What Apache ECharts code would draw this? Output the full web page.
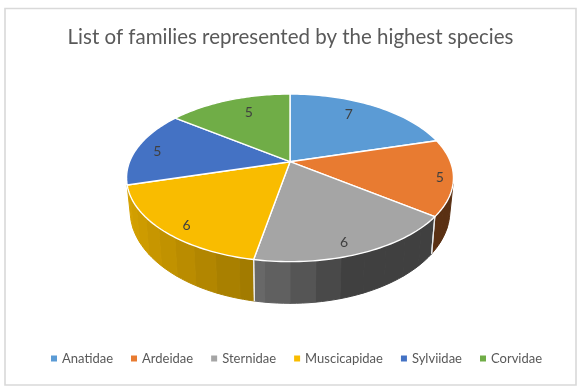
<!DOCTYPE html>
<html><head><meta charset="utf-8">
<style>html,body{margin:0;padding:0;background:#fff}#c{width:583px;height:391px}</style>
<script src="https://cdn.jsdelivr.net/npm/echarts@6/dist/echarts.min.js"></script>
</head><body><div id="c"></div>
<script>
const titleText = 'List of families represented by the highest species';
const families = ['Anatidae','Ardeidae','Sternidae','Muscicapidae','Sylviidae','Corvidae'];
const speciesCounts = [7,5,6,6,5,5];
const palette = ['#5B9BD5','#E87B31','#A5A5A5','#F9BC00','#4472C4','#70AD47'];
// label offsets from the default position, in pixels (layout only)
const labelNudge = [[-10,-1],[20,4],[0,10],[-6,10],[-10,1],[9,2]];

// perspective projection of the tilted disc
const CX=290, CY=161.7, RX=160.4, RY=80.7, K=0.1926;
const total = speciesCounts.reduce((a,b)=>a+b,0);
const starts = speciesCounts.reduce((acc,v)=>{acc.push(acc[acc.length-1]+v);return acc;},[0]);
const toAngle = v => v/total*2*Math.PI;
function topPoint(theta,r){
  r = r===undefined?1:r;
  const u=r*Math.sin(theta), v=-r*Math.cos(theta), d=1-K*v;
  return [CX+RX*u/d, CY+RY*v/d];
}
function bottomPoint(p){ return [CX+0.978*(p[0]-CX), p[1]+31.3+0.104*(p[1]-CY)]; }
function shade(u){
  if(u>=0.3) return 0.39;
  if(u>=-0.18) return 0.39+(0.3-u)/0.48*0.25;
  return 0.64+(-0.18-u)/0.82*0.23;
}
function mul(hex,f){
  const n=parseInt(hex.slice(1),16);
  return 'rgb('+[(n>>16)&255,(n>>8)&255,n&255].map(c=>Math.round(c*f)).join(',')+')';
}
const BAND=7.5*Math.PI/180, SIDE_V=0.27;

function renderSlice(params,api){
  const i=params.seriesIndex, value=api.value(0);
  const a0=toAngle(starts[i]), a1=a0+toAngle(value);
  const color=palette[i], children=[];
  // side wall, banded, only the part that faces the viewer
  const first=Math.ceil(a0/BAND)*BAND;
  const marks=[a0]; for(let a=first;a<a1;a+=BAND){ if(a>a0+1e-6) marks.push(a); } marks.push(a1);
  for(let b=0;b<marks.length-1;b++){
    let s=marks[b], e=marks[b+1];
    const mid=(s+e)/2;
    if(-Math.cos(mid)<SIDE_V) continue;
    const upper=[], n=4;
    for(let t=0;t<=n;t++) upper.push(topPoint(s+(e-s)*t/n));
    const lower=upper.map(bottomPoint).reverse();
    const f=mul(color,shade(Math.sin(mid)));
    children.push({type:'polygon',shape:{points:upper.concat(lower)},style:{fill:f,stroke:f,lineWidth:1},silent:true});
  }
  // pale seam on the wall at slice edges, skipped on the silhouette
  [a0,a1].forEach(a=>{
    if(-Math.cos(a)>=SIDE_V && Math.abs(Math.sin(a))<0.9){
      const p=topPoint(a), q=bottomPoint(p);
      children.push({type:'line',shape:{x1:p[0],y1:p[1],x2:q[0],y2:q[1]},style:{stroke:'#e8e8e8',lineWidth:1.2},silent:true,z2:5});
    }
  });
  // top surface
  const pts=[[CX,CY]], steps=48;
  for(let t=0;t<=steps;t++) pts.push(topPoint(a0+(a1-a0)*t/steps));
  children.push({type:'polygon',shape:{points:pts},style:{fill:color,stroke:'#fff',lineWidth:1.4,lineJoin:'round'},z2:10});
  // value label
  const l=topPoint((a0+a1)/2,0.8);
  children.push({type:'text',style:{text:String(value),x:l[0]+labelNudge[i][0],y:l[1]+labelNudge[i][1],
    align:'center',verticalAlign:'middle',fill:'#404040',font:'14px Lato'},z2:20,silent:true});
  return {type:'group',children};
}

const chart=echarts.init(document.getElementById('c'),null,{renderer:'canvas'});
chart.setOption({
  animation:false,
  color:palette,
  title:{text:titleText,left:285.5,textAlign:'center',top:22,textStyle:{fontFamily:'Lato',fontWeight:'normal',fontSize:20.5,color:'#595959'}},
  legend:{data:families,left:51,top:352,padding:0,itemWidth:6,itemHeight:6,itemGap:18,icon:'rect',
    textStyle:{fontFamily:'Lato',fontSize:13,color:'#595959'}},
  graphic:[{type:'rect',silent:true,z:-1,shape:{x:5,y:8.5,width:571,height:376.5},style:{fill:'#fff',stroke:'#d9d9d9',lineWidth:1.6}}],
  series:families.map((name,i)=>({type:'custom',name,coordinateSystem:'none',renderItem:renderSlice,data:[[speciesCounts[i]]],clip:false}))
});
</script></body></html>
